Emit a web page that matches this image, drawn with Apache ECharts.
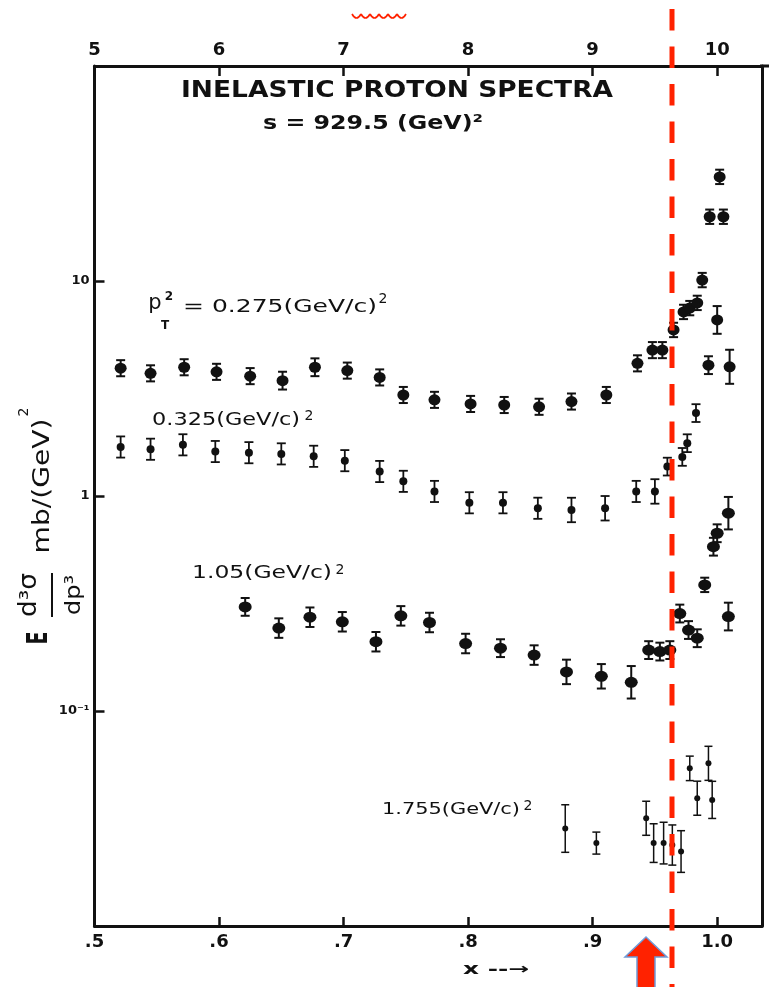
<!DOCTYPE html>
<html><head><meta charset="utf-8">
<script src="https://cdn.jsdelivr.net/npm/echarts@6/dist/echarts.min.js"></script>
<style>html,body{margin:0;padding:0;background:#fff}#c{width:769px;height:987px}</style>
</head><body><div id="c"></div>
<script>
// ---- tick labels ----
const xTickValues = [0.5, 0.6, 0.7, 0.8, 0.9, 1.0];
const bottomTickLabels = ['.5', '.6', '.7', '.8', '.9', '1.0'];
const topTickLabels = ['5', '6', '7', '8', '9', '10'];
const yTickValues = [10, 1, 0.1];
const yTickLabels = ['10', '1', '10⁻¹'];

// ---- data: [x, E d3σ/dp3, relative error] ----
const pt0275 = [
  [0.521,3.93,0.09],[0.545,3.72,0.09],[0.572,3.97,0.09],[0.598,3.78,0.09],[0.625,3.61,0.09],
  [0.651,3.44,0.10],[0.677,3.97,0.10],[0.703,3.83,0.09],[0.729,3.56,0.09],[0.748,2.95,0.09],
  [0.773,2.80,0.09],[0.802,2.68,0.09],[0.829,2.65,0.09],[0.857,2.60,0.09],[0.883,2.75,0.09],
  [0.911,2.95,0.09],[0.936,4.14,0.09],[0.948,4.77,0.09],[0.956,4.77,0.09],[0.965,5.92,0.08],
  [0.973,7.18,0.08],[0.978,7.48,0.08],[0.984,7.91,0.08],[0.988,10.1,0.08],[0.994,19.9,0.08],
  [1.005,19.9,0.08],[1.002,30.5,0.08],[0.993,4.06,0.10],[1.000,6.59,0.16],[1.010,3.99,0.20]
];
const pt0325 = [
  [0.521,1.69,0.12],[0.545,1.65,0.12],[0.571,1.73,0.12],[0.597,1.61,0.12],[0.624,1.59,0.12],
  [0.650,1.57,0.12],[0.676,1.53,0.12],[0.701,1.46,0.12],[0.729,1.30,0.12],[0.748,1.17,0.12],
  [0.773,1.05,0.12],[0.801,0.93,0.12],[0.828,0.93,0.12],[0.856,0.877,0.12],[0.883,0.861,0.14],
  [0.910,0.877,0.14],[0.935,1.05,0.12],[0.950,1.05,0.14],[0.960,1.37,0.10],[0.972,1.52,0.10],
  [0.976,1.76,0.10],[0.983,2.43,0.10]
];
const pt105 = [
  [0.621,0.305,0.10],[0.648,0.243,0.11],[0.673,0.273,0.11],[0.699,0.260,0.11],[0.726,0.210,0.11],
  [0.746,0.277,0.11],[0.769,0.258,0.11],[0.798,0.206,0.11],[0.826,0.196,0.10],[0.853,0.182,0.11],
  [0.879,0.152,0.14],[0.907,0.145,0.14],[0.931,0.136,0.19],[0.945,0.192,0.10],[0.954,0.189,0.10],
  [0.962,0.192,0.10],[0.970,0.284,0.10],[0.977,0.238,0.10],[0.984,0.218,0.10],[0.990,0.386,0.08],
  [0.997,0.581,0.10],[1.000,0.671,0.10],[1.009,0.832,0.19],[1.009,0.275,0.16]
];
const pt1755 = [
  [0.878,0.0284,0.29],[0.903,0.0243,0.125],[0.943,0.0317,0.20],[0.949,0.0243,0.23],
  [0.957,0.0243,0.25],[0.964,0.0238,0.24],[0.971,0.0222,0.25],[0.978,0.0541,0.14],
  [0.993,0.0571,0.20],[0.984,0.0393,0.20],[0.996,0.0386,0.22]
];

const INK = '#111111';
const RED = '#ff2200';
const FF = '"DejaVu Sans"';

const mctx = document.createElement('canvas').getContext('2d');
function stretch(text, font, w) { mctx.font = font; return w / mctx.measureText(text).width; }
function txt(text, cx, cy, font, w, extra) {
  return Object.assign({
    type: 'text', x: cx, y: cy, scaleX: w ? stretch(text, font, w) : 1, z: 50,
    style: { text: text, font: font, fill: INK, textAlign: 'center', textVerticalAlign: 'middle' }
  }, extra || {});
}
const R90 = { rotation: Math.PI / 2 };

function errData(arr) { return arr.map(d => [d[0], d[1] / (1 + d[2]), d[1] * (1 + d[2])]); }
function errRenderer(cap, lw) {
  return function (params, api) {
    const x = api.value(0);
    const a = api.coord([x, api.value(1)]);
    const b = api.coord([x, api.value(2)]);
    const st = { stroke: INK, lineWidth: lw };
    return { type: 'group', children: [
      { type: 'line', shape: { x1: a[0], y1: a[1], x2: b[0], y2: b[1] }, style: st },
      { type: 'line', shape: { x1: a[0] - cap, y1: a[1], x2: a[0] + cap, y2: a[1] }, style: st },
      { type: 'line', shape: { x1: b[0] - cap, y1: b[1], x2: b[0] + cap, y2: b[1] }, style: st }
    ]};
  };
}
function xFmt(labels) {
  return function (v) {
    const i = xTickValues.findIndex(t => Math.abs(t - v) < 1e-6);
    return i >= 0 ? labels[i] : '';
  };
}
const groups = [
  { data: pt0275, size: [12, 11], cap: 4.5, lw: 2 },
  { data: pt0325, size: [8, 8], cap: 4.5, lw: 1.8 },
  { data: pt105, size: [13, 11], cap: 4.5, lw: 2 },
  { data: pt1755, size: [6, 6], cap: 4, lw: 1.5 }
];
const series = [];
groups.forEach(g => {
  series.push({ type: 'custom', renderItem: errRenderer(g.cap, g.lw), data: errData(g.data),
    encode: { x: 0, y: [1, 2] }, z: 2, silent: true });
  series.push({ type: 'scatter', data: g.data.map(d => [d[0], d[1]]), symbol: 'circle',
    symbolSize: g.size, itemStyle: { color: INK, opacity: 1 }, z: 3, silent: true });
});

// small red scalloped mark at the top (decoration)
const squiggle = [];
for (let k = 0; k < 6; k++) {
  squiggle.push({ type: 'bezierCurve', z: 60,
    shape: { x1: 352 + 9 * k, y1: 14, x2: 361 + 9 * k, y2: 14, cpx1: 356.5 + 9 * k, cpy1: 22 },
    style: { stroke: RED, fill: null, lineWidth: 1.6 } });
}

const axisLineStyle = { color: INK, width: 3 };
const tickStyle = { color: INK, width: 2.5 };
const chart = echarts.init(document.getElementById('c'), null, { renderer: 'canvas' });
chart.setOption({
  animation: false,
  backgroundColor: '#ffffff',
  grid: { left: 94.5, right: 7, top: 66, bottom: 61, containLabel: false, outerBoundsMode: 'none' },
  xAxis: [
    { type: 'value', position: 'bottom', min: 0.5, max: 1.036, interval: 0.1,
      axisLine: { show: true, onZero: false, lineStyle: axisLineStyle },
      axisTick: { inside: true, length: 9, lineStyle: tickStyle },
      axisLabel: { formatter: xFmt(bottomTickLabels), color: INK, fontSize: 18, fontWeight: 'bold', fontFamily: 'DejaVu Sans', margin: 7 },
      splitLine: { show: false } },
    { type: 'value', position: 'top', min: 0.5, max: 1.036, interval: 0.1,
      axisLine: { show: true, onZero: false, lineStyle: axisLineStyle },
      axisTick: { inside: true, length: 10, lineStyle: tickStyle },
      axisLabel: { formatter: xFmt(topTickLabels), color: INK, fontSize: 18, fontWeight: 'bold', fontFamily: 'DejaVu Sans', margin: 7 },
      splitLine: { show: false } }
  ],
  yAxis: [
    { type: 'log', logBase: 10, min: 0.01, max: 100, position: 'left',
      axisLine: { show: true, onZero: false, lineStyle: axisLineStyle },
      axisTick: { inside: true, length: 10, lineStyle: tickStyle },
      axisLabel: { formatter: function (v) {
          const i = yTickValues.findIndex(t => Math.abs(Math.log10(v) - Math.log10(t)) < 1e-6);
          return i >= 0 ? yTickLabels[i] : '';
        }, color: INK, fontSize: 13, fontWeight: 'bold', fontFamily: 'DejaVu Sans', margin: 5 },
      splitLine: { show: false } },
    { type: 'log', logBase: 10, min: 0.01, max: 100, position: 'right',
      axisLine: { show: true, onZero: false, lineStyle: axisLineStyle },
      axisTick: { show: false }, axisLabel: { show: false }, splitLine: { show: false } }
  ],
  series: series,
  graphic: [
    txt('INELASTIC PROTON SPECTRA', 397, 91, 'bold 23px ' + FF, 432),
    txt('s = 929.5 (GeV)²', 373, 124, 'bold 20px ' + FF, 220),
    txt('p', 155, 304, '21px ' + FF),
    txt('T', 165, 326, 'bold 12px ' + FF),
    txt('2', 169, 297, 'bold 12px ' + FF),
    txt('= 0.275(GeV/c)', 280, 308, '17px ' + FF, 194),
    txt('2', 383, 299, '14px ' + FF),
    txt('0.325(GeV/c)', 226, 421, '17px ' + FF, 148),
    txt('2', 309, 416, '14px ' + FF),
    txt('1.05(GeV/c)', 262, 574, '17px ' + FF, 140),
    txt('2', 340, 570, '14px ' + FF),
    txt('1.755(GeV/c)', 451, 810, '16px ' + FF, 138),
    txt('2', 528, 806, '14px ' + FF),
    txt('x --→', 496, 970, 'bold 15px ' + FF, 66),
    // y-axis title (rotated)
    txt('E', 40, 638, 'bold 28px ' + FF, 13, R90),
    txt('d³σ', 30, 595, '24px ' + FF, 44, R90),
    { type: 'line', z: 50, shape: { x1: 52, y1: 573, x2: 52, y2: 617 }, style: { stroke: INK, lineWidth: 2 } },
    txt('dp³', 74, 595, '22px ' + FF, 40, R90),
    txt('mb/(GeV)', 43, 486, '23px ' + FF, 135, R90),
    txt('2', 24, 412, '14px ' + FF, null, R90),
    // top frame line running past the right border, as in the scan
    { type: 'line', z: 40, shape: { x1: 760, y1: 66, x2: 769, y2: 66 }, style: { stroke: INK, lineWidth: 3 } }
  ].concat(squiggle).concat([
    { type: 'line', z: 60, shape: { x1: 672, y1: 9, x2: 672, y2: 987 },
      style: { stroke: RED, lineWidth: 5, lineDash: [21.5, 16] } },
    { type: 'polygon', z: 60, shape: { points: [[646,937],[667,957],[655,957],[655,992],[637,992],[637,957],[625,957]] },
      style: { fill: RED, stroke: '#6f9bd8', lineWidth: 1.5 } }
  ])
});
</script>
</body></html>
